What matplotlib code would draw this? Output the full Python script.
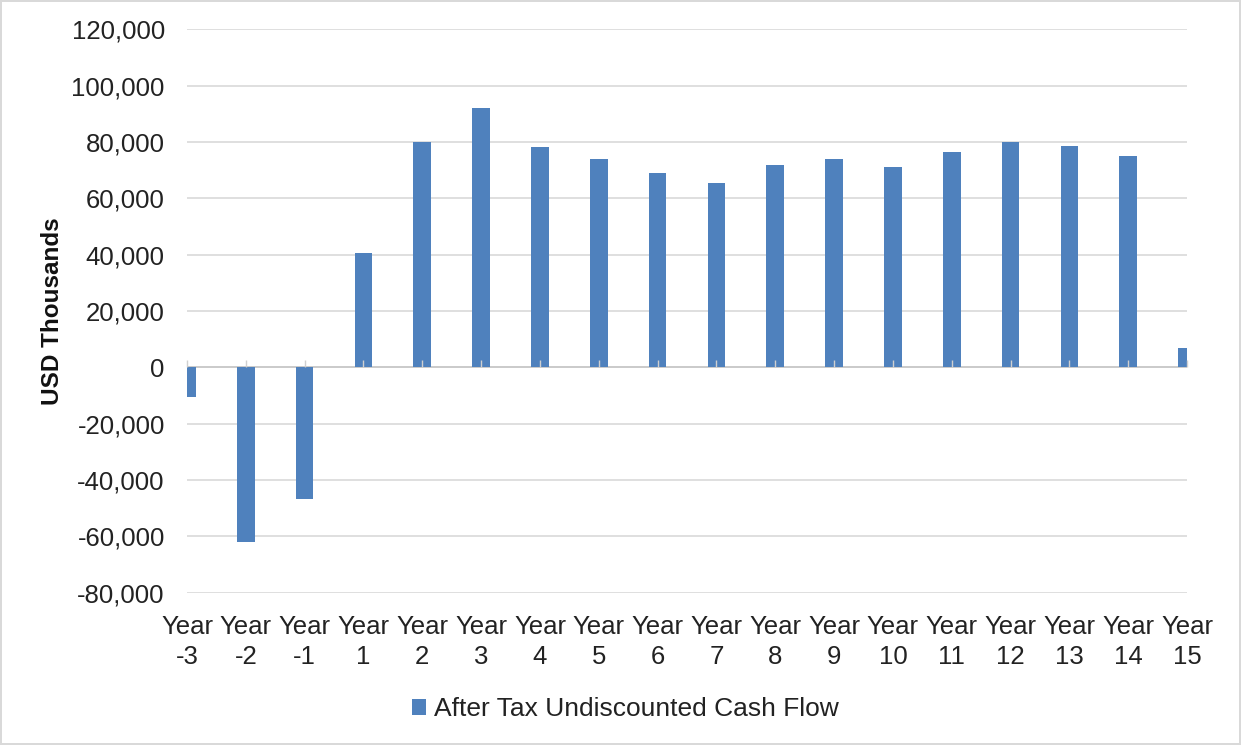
import matplotlib
matplotlib.use("Agg")
import matplotlib.pyplot as plt
import numpy as np
from matplotlib.ticker import FuncFormatter, MultipleLocator

categories = ["Year\n-3", "Year\n-2", "Year\n-1", "Year\n1", "Year\n2", "Year\n3",
              "Year\n4", "Year\n5", "Year\n6", "Year\n7", "Year\n8", "Year\n9",
              "Year\n10", "Year\n11", "Year\n12", "Year\n13", "Year\n14", "Year\n15"]
cash_flow = [-10400, -62100, -46800, 40600, 80100, 92200, 78100, 74100, 69000,
             65500, 71800, 74000, 71200, 76400, 80000, 78600, 75000, 7000]
series_name = "After Tax Undiscounted Cash Flow"
y_label = "USD Thousands"

plt.rcParams['font.family'] = ['Liberation Sans', 'DejaVu Sans']

fig = plt.figure(figsize=(12.41, 7.45), dpi=100)
fig.patch.set_edgecolor('#d9d9d9')
fig.patch.set_linewidth(1.5)
ax = fig.add_axes([0.1507, 0.2044, 0.8058, 0.7563])

x = np.arange(len(categories))
bar_color = '#4f81bd'
ax.bar(x, cash_flow, width=0.3, color=bar_color, label=series_name, zorder=3)

ymin, ymax = -80000, 120000
ax.set_ylim(ymin, ymax)
ax.set_xlim(x[0], x[-1])
ax.yaxis.set_major_locator(MultipleLocator(20000))
ax.yaxis.set_major_formatter(FuncFormatter(lambda v, p: f"{int(v):,}"))
ax.grid(axis='y', color='#d9d9d9', linewidth=1.2, zorder=0)
ax.axhline(0, color='#c8c8c8', linewidth=1.2, zorder=2)

for s in ax.spines.values():
    s.set_visible(False)

ax.set_xticks(x)
ax.set_xticklabels(categories, fontsize=18.5, color='#222222', linespacing=1.3)
ax.tick_params(axis='x', length=0, pad=16)
ax.tick_params(axis='y', length=0, labelsize=18.5, labelcolor='#222222', pad=16)

# small category tick marks on the zero line
sec = ax.secondary_xaxis((0 - ymin) / (ymax - ymin))
sec.set_zorder(4)
sec.set_xticks(x)
sec.set_xticklabels([])
sec.tick_params(axis='x', direction='in', length=5, color='#d0d0d0', width=1)
sec.spines['bottom'].set_visible(False)

ax.set_ylabel(y_label, fontsize=17.5, fontweight='bold', color='#111111', labelpad=5)

leg = fig.legend(loc='center', bbox_to_anchor=(0.504, 0.048), frameon=False,
                 fontsize=19, handlelength=0.55, handleheight=0.55,
                 handletextpad=0.3)
for t in leg.get_texts():
    t.set_color('#222222')

fig.savefig("out.png", dpi=100)
